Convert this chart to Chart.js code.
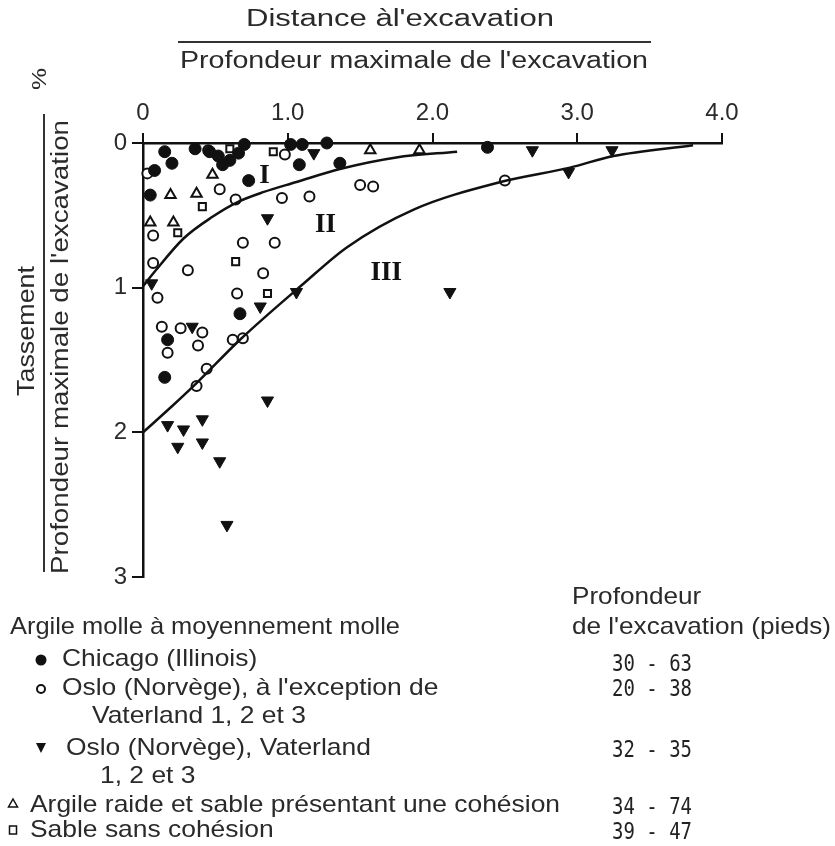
<!DOCTYPE html>
<html>
<head>
<meta charset="utf-8">
<script src="https://cdn.jsdelivr.net/npm/chart.js@4/dist/chart.umd.min.js"></script>
<style>
html,body{margin:0;padding:0;background:#fff;}
#wrap{position:relative;width:835px;height:846px;}
</style>
</head>
<body>
<div id="wrap"><canvas id="c"></canvas></div>
<script>
// ---- Data (x = distance / depth, y = settlement / depth, %) ----
const xTicks = [0, 1, 2, 3, 4];
const xTickLabels = ['0', '1.0', '2.0', '3.0', '4.0'];
const yTicks = [0, 1, 2, 3];
const yTickLabels = ['0', '1', '2', '3'];

const chicago = [[0.08,0.19],[0.15,0.06],[0.20,0.14],[0.05,0.36],[0.36,0.04],[0.46,0.06],[0.52,0.09],
  [0.55,0.15],[0.60,0.12],[0.66,0.07],[0.70,0.01],[0.73,0.26],[1.02,0.01],[1.10,0.01],[1.27,0.0],
  [1.08,0.15],[1.36,0.14],[2.38,0.03],[0.67,1.18],[0.17,1.36],[0.15,1.62]];
const osloOpen = [[0.03,0.21],[0.45,0.05],[0.98,0.08],[0.53,0.32],[0.64,0.39],[0.96,0.38],[1.15,0.37],
  [1.50,0.29],[1.59,0.30],[2.50,0.26],[0.07,0.64],[0.07,0.83],[0.31,0.88],[0.69,0.69],[0.91,0.69],
  [0.83,0.90],[0.65,1.04],[0.10,1.07],[0.13,1.27],[0.26,1.28],[0.41,1.31],[0.38,1.40],[0.17,1.45],
  [0.62,1.36],[0.69,1.35],[0.44,1.56],[0.37,1.68]];
const vaterland = [[0.06,0.97],[1.18,0.07],[0.86,0.52],[2.12,1.03],[2.69,0.05],[3.24,0.05],[2.94,0.20],
  [0.34,1.27],[0.81,1.13],[1.06,1.03],[0.86,1.78],[0.17,1.95],[0.28,1.98],[0.41,1.91],[0.24,2.10],
  [0.41,2.07],[0.53,2.20],[0.58,2.64]];
const stiffClay = [[0.48,0.22],[0.19,0.36],[0.37,0.35],[0.05,0.55],[0.21,0.55],[1.57,0.05],[1.91,0.05]];
const sand = [[0.90,0.06],[0.60,0.04],[0.41,0.44],[0.24,0.62],[0.64,0.82],[0.86,1.04]];

const boundaryI = [[0,0.99],[0.08,0.89],[0.28,0.66],[0.48,0.51],[0.65,0.41],[0.83,0.34],[1.06,0.27],
  [1.36,0.18],[1.75,0.10],[2.17,0.06]];
const boundaryII = [[0,2.0],[0.2,1.82],[0.37,1.66],[0.67,1.36],[1.1,0.98],[1.41,0.72],[1.87,0.46],
  [2.47,0.27],[2.95,0.17],[3.25,0.09],[3.8,0.015]];

const zoneLabels = [['I',0.84,0.23],['II',1.26,0.57],['III',1.68,0.90]];

const legendRows = [
  {text:'Chicago (Illinois)', range:'30 - 63'},
  {text:'Oslo (Norvège), à l\'exception de', range:'20 - 38'},
  {text:'Oslo (Norvège), Vaterland', range:'32 - 35'},
  {text:'Argile raide et sable présentant une cohésion', range:'34 - 74'},
  {text:'Sable sans cohésion', range:'39 - 47'}
];

const pts = a => a.map(p => ({x:p[0], y:p[1]}));
const INK = '#111';
const TXT = '#2a2a2a';
const SANS = '"Liberation Sans", Arial, sans-serif';

function fit(ctx, text, x, y, w, size, opts) {
  opts = opts || {};
  ctx.save();
  ctx.font = (opts.weight || '') + ' ' + size + 'px ' + (opts.family || SANS);
  ctx.fillStyle = opts.color || TXT;
  ctx.textBaseline = 'middle';
  ctx.textAlign = 'left';
  const m = ctx.measureText(text).width;
  ctx.translate(x, y);
  if (opts.rot) ctx.rotate(opts.rot);
  ctx.scale(w / m, 1);
  ctx.fillText(text, 0, 0);
  ctx.restore();
}
// draw with a given horizontal scale factor
function scaled(ctx, text, x, y, sx, size) {
  ctx.save();
  ctx.font = size + 'px ' + SANS;
  ctx.fillStyle = TXT;
  ctx.textBaseline = 'middle';
  ctx.textAlign = 'left';
  ctx.translate(x, y);
  ctx.scale(sx, 1);
  ctx.fillText(text, 0, 0);
  ctx.restore();
}

const decor = {
  id: 'decor',
  afterDatasetsDraw(chart) {
    const ctx = chart.ctx, xs = chart.scales.x, ys = chart.scales.y;
    ctx.save();
    ctx.fillStyle = INK;
    ctx.font = 'bold 27px "Liberation Serif", "Times New Roman", serif';
    ctx.textAlign = 'center';
    ctx.textBaseline = 'middle';
    zoneLabels.forEach(z => ctx.fillText(z[0], xs.getPixelForValue(z[1]), ys.getPixelForValue(z[2])));
    ctx.restore();
  },
  afterDraw(chart) {
    const ctx = chart.ctx;
    // top title (fraction)
    fit(ctx, 'Distance àl\'excavation', 246, 20, 308, 23);
    ctx.save(); ctx.strokeStyle = '#333'; ctx.lineWidth = 2;
    ctx.beginPath(); ctx.moveTo(178, 42); ctx.lineTo(651, 42); ctx.stroke(); ctx.restore();
    fit(ctx, 'Profondeur maximale de l\'excavation', 180, 62, 468, 23);
    // left title (fraction, rotated)
    fit(ctx, 'Tassement', 28, 396, 130, 23, {rot: -Math.PI/2});
    ctx.save(); ctx.strokeStyle = '#333'; ctx.lineWidth = 2;
    ctx.beginPath(); ctx.moveTo(44, 572); ctx.lineTo(44, 114); ctx.stroke(); ctx.restore();
    fit(ctx, 'Profondeur maximale de l\'excavation', 62, 574, 454, 23, {rot: -Math.PI/2});
    fit(ctx, '%', 40, 90, 22, 20, {rot: -Math.PI/2});

    // legend: one common horizontal scale, derived from the longest line
    const L = 24;
    ctx.save(); ctx.font = L + 'px ' + SANS;
    const sx = 530 / ctx.measureText(legendRows[3].text).width;
    const sx2 = 259 / ctx.measureText('de l\'excavation (pieds)').width;
    ctx.restore();
    scaled(ctx, 'Profondeur', 572, 597, sx2, L);
    scaled(ctx, 'de l\'excavation (pieds)', 572, 627, sx2, L);
    fit(ctx, 'Argile molle à moyennement molle', 10, 627, 390, L);
    scaled(ctx, legendRows[0].text, 62, 659, sx, L);
    scaled(ctx, legendRows[1].text, 62, 688, sx, L);
    scaled(ctx, 'Vaterland 1, 2 et 3', 92, 716, sx, L);
    scaled(ctx, legendRows[2].text, 66, 748, sx, L);
    scaled(ctx, '1, 2 et 3', 100, 776, sx, L);
    scaled(ctx, legendRows[3].text, 30, 805, sx, L);
    scaled(ctx, legendRows[4].text, 30, 830, sx, L);
    const ry = [665, 690, 751, 808, 833];
    legendRows.forEach((r, i) => fit(ctx, r.range, 612, ry[i], 80, 23, {family: '"DejaVu Sans Mono", monospace', color: '#222'}));

    // legend markers
    ctx.save();
    ctx.fillStyle = INK; ctx.strokeStyle = INK;
    ctx.beginPath(); ctx.arc(41, 660, 5.5, 0, Math.PI*2); ctx.fill();
    ctx.lineWidth = 2;
    ctx.beginPath(); ctx.arc(41, 689, 4, 0, Math.PI*2); ctx.stroke();
    ctx.beginPath(); ctx.moveTo(36, 743); ctx.lineTo(46, 743); ctx.lineTo(41, 753); ctx.closePath(); ctx.fill();
    ctx.lineWidth = 1.5;
    ctx.beginPath(); ctx.moveTo(13, 799); ctx.lineTo(17.5, 807); ctx.lineTo(8.5, 807); ctx.closePath(); ctx.stroke();
    ctx.strokeRect(9.5, 826, 7, 8);
    ctx.restore();
  }
};

const common = {clip: false, showLine: false};
new Chart(document.getElementById('c'), {
  type: 'scatter',
  data: {
    datasets: [
      {label:'Zone I/II', data: pts(boundaryI), showLine: true, borderColor: INK, borderWidth: 2.5,
        pointRadius: 0, cubicInterpolationMode: 'monotone', clip: false},
      {label:'Zone II/III', data: pts(boundaryII), showLine: true, borderColor: INK, borderWidth: 2.5,
        pointRadius: 0, cubicInterpolationMode: 'monotone', clip: false},
      {...common, label:'Chicago', data: pts(chicago), pointStyle:'circle', pointRadius: 6,
        backgroundColor: INK, borderColor: INK, borderWidth: 1},
      {...common, label:'Oslo', data: pts(osloOpen), pointStyle:'circle', pointRadius: 5,
        backgroundColor: '#fff', borderColor: INK, borderWidth: 2},
      {...common, label:'Vaterland', data: pts(vaterland), pointStyle:'triangle', pointRotation: 180,
        pointRadius: 7, backgroundColor: INK, borderColor: INK, borderWidth: 1},
      {...common, label:'Argile raide', data: pts(stiffClay), pointStyle:'triangle', pointRadius: 6,
        backgroundColor: '#fff', borderColor: INK, borderWidth: 2},
      {...common, label:'Sable', data: pts(sand), pointStyle:'rect', pointRadius: 5,
        backgroundColor: '#fff', borderColor: INK, borderWidth: 2}
    ]
  },
  options: {
    responsive: true,
    maintainAspectRatio: false,
    animation: false,
    layout: {padding: {left: 0, top: 0, right: 113, bottom: 269}},
    plugins: {legend: {display: false}, tooltip: {enabled: false}},
    scales: {
      x: {
        type: 'linear', position: 'top', min: 0, max: 4,
        afterBuildTicks: s => { s.ticks = xTicks.map(v => ({value: v})); },
        afterFit: s => { s.height = 143; },
        ticks: {callback: (v) => xTickLabels[xTicks.indexOf(v)], color: TXT, padding: 5, maxRotation: 0,
          font: {size: 24, family: SANS}},
        grid: {display: true, drawOnChartArea: false, drawTicks: true, tickLength: 10, color: INK, lineWidth: 2},
        border: {display: true, color: INK, width: 2.5}
      },
      y: {
        type: 'linear', reverse: true, min: 0, max: 3,
        afterBuildTicks: s => { s.ticks = yTicks.map(v => ({value: v})); },
        afterFit: s => { s.width = 143; },
        ticks: {callback: (v) => yTickLabels[yTicks.indexOf(v)], color: TXT, padding: 5,
          font: {size: 24, family: SANS}},
        grid: {display: true, drawOnChartArea: false, drawTicks: true, tickLength: 11, color: INK, lineWidth: 2},
        border: {display: true, color: INK, width: 2.5}
      }
    }
  },
  plugins: [decor]
});
</script>
</body>
</html>
